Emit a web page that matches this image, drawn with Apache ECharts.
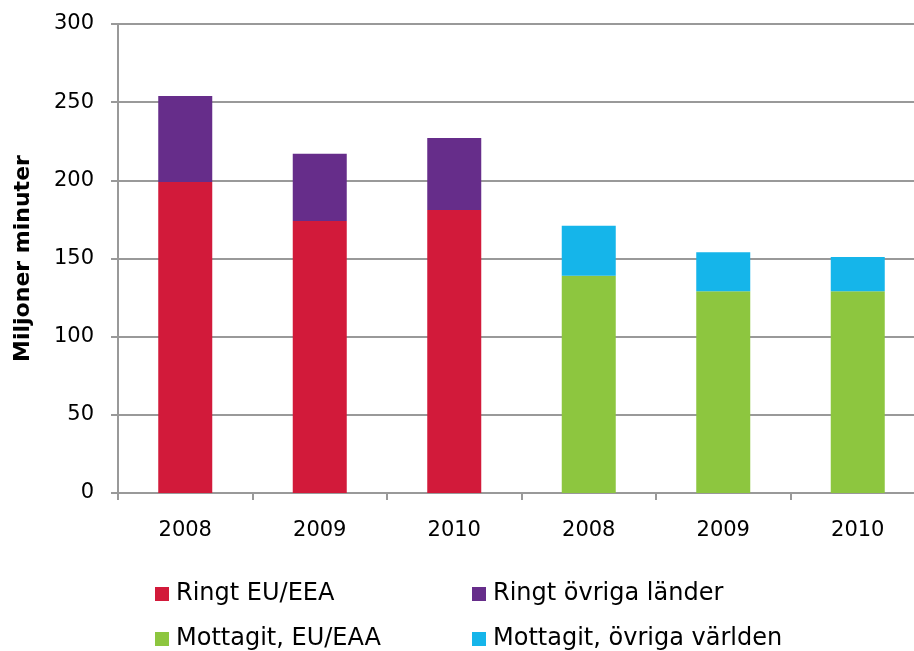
<!DOCTYPE html>
<html>
<head>
<meta charset="utf-8">
<script src="https://cdn.jsdelivr.net/npm/echarts@6/dist/echarts.min.js"></script>
<style>
  html, body { margin: 0; padding: 0; background: #fff; }
  #chart { width: 914px; height: 651px; }
</style>
</head>
<body>
<div id="chart"></div>
<script>
const years = ['2008', '2009', '2010', '2008', '2009', '2010']
const ringtEU = [199, 174, 181, '-', '-', '-']
const ringtOvriga = [55, 43, 46, '-', '-', '-']
const mottagitEU = ['-', '-', '-', 139, 129, 129]
const mottagitOvriga = ['-', '-', '-', 32, 25, 22]
const yTicks = [0, 50, 100, 150, 200, 250, 300]

const font = 'DejaVu Sans, Verdana, sans-serif'
const colors = ['#D21A3A', '#662D8A', '#8DC63F', '#15B5EA']

// one legend box per entry, laid out as a 2x2 grid below the plot
const legendItem = (name, left, top) => ({
  data: [name],
  left: left,
  top: top,
  padding: 0,
  itemWidth: 14,
  itemHeight: 14,
  icon: 'rect',
  selectedMode: false,
  textStyle: { fontFamily: font, fontSize: 24, color: '#000', padding: [0, 0, 0, 2] }
})

let myChart = echarts.init(document.getElementById('chart'))
let option = {
  animation: false,
  color: colors,
  textStyle: { fontFamily: font },
  grid: {
    left: 118,
    width: 807,
    top: 24,
    bottom: 158,
    containLabel: false,
    outerBoundsMode: 'none'
  },
  legend: [
    legendItem('Ringt EU/EEA', 155, 582),
    legendItem('Ringt övriga länder', 472, 582),
    legendItem('Mottagit, EU/EAA', 155, 627),
    legendItem('Mottagit, övriga världen', 472, 627)
  ],
  xAxis: {
    type: 'category',
    data: years,
    axisLine: { lineStyle: { color: '#999', width: 2 } },
    axisTick: { show: true, interval: 0, length: 7, lineStyle: { color: '#999', width: 2 } },
    axisLabel: { fontSize: 21, color: '#000', margin: 27, fontFamily: font }
  },
  yAxis: {
    type: 'value',
    min: yTicks[0],
    max: yTicks[yTicks.length - 1],
    interval: 50,
    name: 'Miljoner minuter',
    nameLocation: 'middle',
    nameGap: 84,
    nameTextStyle: { fontSize: 22, fontWeight: 'bold', color: '#000', fontFamily: font },
    axisLine: { show: true, lineStyle: { color: '#999', width: 2 } },
    axisTick: { show: true, length: 7, lineStyle: { color: '#999', width: 2 } },
    axisLabel: { fontSize: 21, color: '#000', margin: 24, fontFamily: font },
    splitLine: { lineStyle: { color: '#999', width: 2 } }
  },
  series: [
    { name: 'Ringt EU/EEA', type: 'bar', stack: 'a', barWidth: 54, data: ringtEU },
    { name: 'Ringt övriga länder', type: 'bar', stack: 'a', barWidth: 54, data: ringtOvriga },
    { name: 'Mottagit, EU/EAA', type: 'bar', stack: 'a', barWidth: 54, data: mottagitEU },
    { name: 'Mottagit, övriga världen', type: 'bar', stack: 'a', barWidth: 54, data: mottagitOvriga }
  ]
}
myChart.setOption(option)
</script>
</body>
</html>
